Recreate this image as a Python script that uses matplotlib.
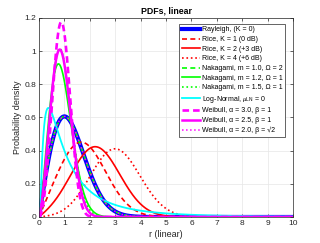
import math
import numpy as np
import matplotlib
matplotlib.use("Agg")
import matplotlib.pyplot as plt

plt.rcParams["font.family"] = ["Liberation Sans", "DejaVu Sans"]
plt.rcParams["mathtext.fontset"] = "custom"
plt.rcParams["mathtext.it"] = "Liberation Serif:italic"
plt.rcParams["mathtext.rm"] = "Liberation Sans"

rayleigh_sigma = 1.0
rice_K = [1, 2, 4]
rice_labels = ["Rice, K = 1 (0 dB)", "Rice, K = 2 (+3 dB)", "Rice, K = 4 (+6 dB)"]
nak_m = [1.0, 1.2, 1.5]
nak_omega = [2, 1, 1]
nak_labels = ["Nakagami, m = 1.0, \u03a9 = 2", "Nakagami, m = 1.2, \u03a9 = 1",
              "Nakagami, m = 1.5, \u03a9 = 1"]
ln_mu = 0.0
ln_sigma = 1.0
weib_alpha = [3.0, 2.5, 2.0]
weib_beta = [1.0, 1.0, math.sqrt(2)]
weib_labels = ["Weibull, \u03b1 = 3.0, \u03b2 = 1", "Weibull, \u03b1 = 2.5, \u03b2 = 1",
               "Weibull, \u03b1 = 2.0, \u03b2 = \u221a2"]
xticks = [0, 1, 2, 3, 4, 5, 6, 7, 8, 9, 10]
yticks = [0, 0.2, 0.4, 0.6, 0.8, 1.0, 1.2]
ytick_labels = ["0", "0.2", "0.4", "0.6", "0.8", "1", "1.2"]

r = np.linspace(1e-4, 10, 1500)

def rayleigh(x, s):
    return x / s**2 * np.exp(-x**2 / (2 * s**2))

def rice(x, K, s=1.0):
    nu = math.sqrt(2 * K) * s
    return x / s**2 * np.exp(-(x**2 + nu**2) / (2 * s**2)) * np.i0(x * nu / s**2)

def nakagami(x, m, om):
    return 2 * m**m / (math.gamma(m) * om**m) * x**(2 * m - 1) * np.exp(-m * x**2 / om)

def lognorm(x, mu, s):
    return 1 / (x * s * math.sqrt(2 * math.pi)) * np.exp(-(np.log(x) - mu)**2 / (2 * s**2))

def weibull(x, a, b):
    return a / b * (x / b)**(a - 1) * np.exp(-(x / b)**a)

fig = plt.figure(figsize=(3.2, 2.43), dpi=100)
ax = fig.add_axes([0.122, 0.107, 0.794, 0.819])

ax.plot(r, rayleigh(r, rayleigh_sigma), color="#0000ff", lw=3.0, label="Rayleigh, (K = 0)")
styles = ["--", "-", ":"]
dashes = (3, 2)
for K, st, lab in zip(rice_K, styles, rice_labels):
    kw = {"dashes": dashes} if st == "--" else {}
    ax.plot(r, rice(r, K), color="#ff0000", ls=st, lw=1.2, label=lab, **kw)
for m, om, st, lab in zip(nak_m, nak_omega, styles, nak_labels):
    kw = {"dashes": dashes} if st == "--" else {}
    ax.plot(r, nakagami(r, m, om), color="#00ff00", ls=st, lw=1.2, label=lab, **kw)
ax.plot(r, lognorm(r, ln_mu, ln_sigma), color="#00ffff", lw=1.3,
        label="Log-Normal, $\\mu_{\\rm LN}$ = 0")
wl = [1.9, 1.8, 1.1]
for a, b, st, lab, lw in zip(weib_alpha, weib_beta, styles, weib_labels, wl):
    kw = {"dashes": (2.5, 1.5)} if st == "--" else {}
    ax.plot(r, weibull(r, a, b), color="#ff00ff", ls=st, lw=lw, label=lab, **kw)

ax.set_xlim(0, 10)
ax.set_ylim(0, 1.2)
ax.set_xticks(xticks)
ax.set_yticks(yticks)
ax.set_yticklabels(ytick_labels)
ax.grid(True, color="#e6e6e6", lw=0.5)
ax.set_axisbelow(True)
ax.tick_params(direction="in", length=2, width=0.5, labelsize=6, colors="#262626",
               top=True, right=True, pad=2)
for sp in ax.spines.values():
    sp.set_color("#262626")
    sp.set_linewidth(0.5)
ax.set_title("PDFs, linear", fontsize=6.3, fontweight="bold", pad=3)
ax.set_xlabel("r (linear)", fontsize=6.5, color="#262626", labelpad=2)
ax.set_ylabel("Probability density", fontsize=6.5, color="#262626", labelpad=2)

leg = ax.legend(loc="upper right", bbox_to_anchor=(0.969, 0.97), fontsize=5,
                handlelength=2.6, handletextpad=0.3, borderaxespad=0.0,
                labelspacing=0.38, borderpad=0.35, fancybox=False,
                edgecolor="#262626", framealpha=1)
leg.get_frame().set_linewidth(0.5)

fig.savefig("out.png", dpi=100)
